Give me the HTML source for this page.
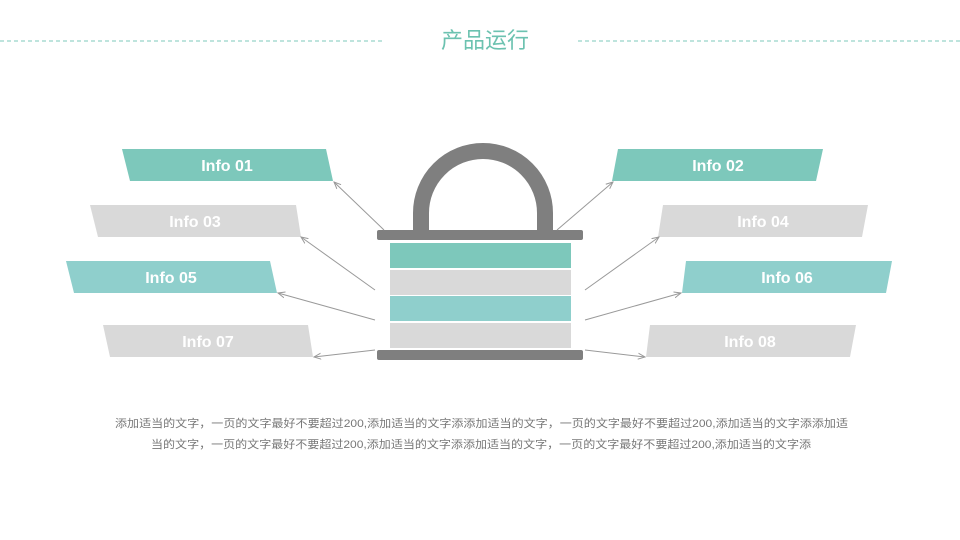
<!DOCTYPE html>
<html><head><meta charset="utf-8"><style>
html,body{margin:0;padding:0;background:#fff;width:960px;height:540px;overflow:hidden}
</style></head><body>
<svg width="960" height="540" viewBox="0 0 960 540" xmlns="http://www.w3.org/2000/svg" font-family="'Liberation Sans','Noto Sans CJK SC',sans-serif">
<defs><marker id="a" markerWidth="8" markerHeight="8" refX="7" refY="4" orient="auto" markerUnits="userSpaceOnUse"><path d="M0,1 L7,4 L0,7" fill="none" stroke="#999" stroke-width="1"/></marker></defs>
<line x1="0" y1="41" x2="383" y2="41" stroke="#7dc8bb" stroke-dasharray="4,3"/>
<line x1="578" y1="41" x2="960" y2="41" stroke="#7dc8bb" stroke-dasharray="4,3"/>
<text x="485" y="48" text-anchor="middle" font-size="22" fill="#6cc2b0" font-family="'Liberation Sans','Noto Sans CJK SC',sans-serif">产品运行</text>
<path d="M421,234 V213 A62,62 0 0 1 545,213 V234" fill="none" stroke="#7f7f7f" stroke-width="16"/>
<rect x="377" y="230" width="206" height="10" rx="2" fill="#7f7f7f"/>
<rect x="390" y="243" width="181" height="25" fill="#7dc8bb"/>
<rect x="390" y="270" width="181" height="25" fill="#d9d9d9"/>
<rect x="390" y="296" width="181" height="25" fill="#8fcfcc"/>
<rect x="390" y="323" width="181" height="25" fill="#d9d9d9"/>
<rect x="377" y="350" width="206" height="10" rx="2" fill="#7f7f7f"/>
<g font-weight="bold" font-size="16" fill="#fff" text-anchor="middle">
<polygon points="122,149 326,149 333,181 130,181" fill="#7dc8bb"/><text x="227" y="171">Info 01</text>
<polygon points="90,205 296,205 301,237 98,237" fill="#d9d9d9"/><text x="195" y="227">Info 03</text>
<polygon points="66,261 270,261 277,293 74,293" fill="#8fcfcc"/><text x="171" y="283">Info 05</text>
<polygon points="103,325 308,325 313,357 110,357" fill="#d9d9d9"/><text x="208" y="347">Info 07</text>
<polygon points="618,149 823,149 816,181 612,181" fill="#7dc8bb"/><text x="718" y="171">Info 02</text>
<polygon points="663,205 868,205 862,237 658,237" fill="#d9d9d9"/><text x="763" y="227">Info 04</text>
<polygon points="686,261 892,261 886,293 682,293" fill="#8fcfcc"/><text x="787" y="283">Info 06</text>
<polygon points="650,325 856,325 850,357 646,357" fill="#d9d9d9"/><text x="750" y="347">Info 08</text>
</g>
<g stroke="#999" stroke-width="1" marker-end="url(#a)">
<line x1="384" y1="230" x2="334" y2="182"/>
<line x1="375" y1="290" x2="301" y2="237"/>
<line x1="375" y1="320" x2="278" y2="293"/>
<line x1="375" y1="350" x2="314" y2="357"/>
<line x1="557" y1="230" x2="613" y2="182"/>
<line x1="585" y1="290" x2="659" y2="237"/>
<line x1="585" y1="320" x2="681" y2="293"/>
<line x1="585" y1="350" x2="645" y2="357"/>
</g>
<g font-size="11" fill="#777">
<text x="115" y="427" textLength="733" lengthAdjust="spacingAndGlyphs">添加适当的文字，一页的文字最好不要超过200,添加适当的文字添添加适当的文字，一页的文字最好不要超过200,添加适当的文字添添加适</text>
<text x="151" y="448" textLength="660" lengthAdjust="spacingAndGlyphs">当的文字，一页的文字最好不要超过200,添加适当的文字添添加适当的文字，一页的文字最好不要超过200,添加适当的文字添</text>
</g>
</svg>
</body></html>
